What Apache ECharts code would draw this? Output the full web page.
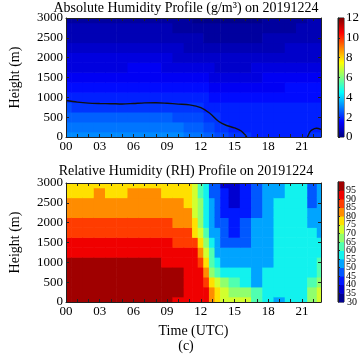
<!DOCTYPE html>
<html>
<head>
<meta charset="utf-8">
<script src="https://cdn.jsdelivr.net/npm/echarts@6/dist/echarts.min.js"></script>
<style>
html, body { margin: 0; padding: 0; background: #fff; }
#chart { width: 364px; height: 354px; }
</style>
</head>
<body>
<div id="chart"></div>
<script>
// sample times (hours UTC) and heights (m)
var times = [0, 1, 2, 3, 4, 5, 6, 7, 8, 9, 10, 11, 11.5, 12, 12.5, 13, 13.5, 14, 15, 16, 17, 18, 19, 20, 21, 22, 22.7];
var heights = [0, 250, 500, 750, 1000, 1250, 1500, 1750, 2000, 2250, 2500, 2750, 3000];
var hourLabels = ['00', '03', '06', '09', '12', '15', '18', '21'];

// absolute humidity (g/m3), one column per time, bottom -> top
var ahGrid = [
    [3.1, 2.8, 2.5, 2.25, 1.95, 1.65, 1.4, 1.2, 1.0, 0.85, 0.7, 0.55, 0.45],
    [3.1, 2.8, 2.5, 2.2, 1.95, 1.65, 1.4, 1.2, 1.0, 0.85, 0.7, 0.55, 0.45],
    [3.1, 2.8, 2.5, 2.2, 1.9, 1.65, 1.4, 1.2, 1.0, 0.85, 0.7, 0.55, 0.4],
    [3.1, 2.8, 2.5, 2.2, 1.9, 1.65, 1.4, 1.2, 1.0, 0.8, 0.65, 0.5, 0.4],
    [3.1, 2.8, 2.5, 2.2, 1.9, 1.65, 1.4, 1.2, 1.0, 0.8, 0.65, 0.5, 0.4],
    [3.1, 2.8, 2.5, 2.2, 1.9, 1.65, 1.4, 1.2, 1.0, 0.85, 0.7, 0.55, 0.45],
    [3.1, 2.8, 2.5, 2.2, 1.9, 1.65, 1.45, 1.25, 1.05, 0.85, 0.7, 0.55, 0.45],
    [3.1, 2.8, 2.5, 2.2, 1.95, 1.7, 1.45, 1.25, 1.05, 0.9, 0.7, 0.55, 0.45],
    [3.1, 2.8, 2.5, 2.2, 1.95, 1.7, 1.45, 1.25, 1.05, 0.85, 0.7, 0.55, 0.4],
    [3.05, 2.8, 2.5, 2.2, 1.95, 1.65, 1.4, 1.2, 1.0, 0.8, 0.65, 0.5, 0.35],
    [3.0, 2.75, 2.45, 2.2, 1.9, 1.65, 1.4, 1.15, 0.95, 0.75, 0.6, 0.45, 0.3],
    [2.95, 2.7, 2.4, 2.15, 1.9, 1.6, 1.35, 1.1, 0.9, 0.7, 0.55, 0.4, 0.25],
    [2.9, 2.65, 2.35, 2.1, 1.85, 1.6, 1.35, 1.1, 0.9, 0.7, 0.5, 0.35, 0.2],
    [2.8, 2.55, 2.3, 2.0, 1.8, 1.55, 1.3, 1.05, 0.85, 0.65, 0.5, 0.35, 0.2],
    [2.65, 2.45, 2.2, 1.95, 1.75, 1.5, 1.25, 1.0, 0.8, 0.6, 0.45, 0.3, 0.15],
    [2.5, 2.35, 2.1, 1.9, 1.7, 1.45, 1.2, 1.0, 0.8, 0.6, 0.45, 0.3, 0.15],
    [2.4, 2.2, 2.0, 1.85, 1.7, 1.45, 1.2, 0.95, 0.75, 0.55, 0.4, 0.25, 0.15],
    [2.3, 2.05, 1.95, 1.85, 1.65, 1.4, 1.15, 0.95, 0.75, 0.55, 0.4, 0.25, 0.15],
    [2.1, 1.98, 1.9, 1.8, 1.65, 1.4, 1.15, 0.95, 0.75, 0.55, 0.4, 0.25, 0.15],
    [2.0, 1.9, 1.85, 1.8, 1.65, 1.4, 1.15, 0.95, 0.75, 0.55, 0.4, 0.25, 0.15],
    [1.9, 1.88, 1.85, 1.8, 1.65, 1.4, 1.2, 1.0, 0.8, 0.6, 0.45, 0.3, 0.2],
    [1.88, 1.86, 1.84, 1.78, 1.65, 1.45, 1.25, 1.0, 0.85, 0.65, 0.5, 0.35, 0.25],
    [1.88, 1.86, 1.84, 1.78, 1.65, 1.45, 1.25, 1.05, 0.85, 0.7, 0.55, 0.4, 0.3],
    [1.9, 1.88, 1.85, 1.8, 1.68, 1.5, 1.3, 1.1, 0.9, 0.75, 0.6, 0.45, 0.35],
    [1.95, 1.9, 1.86, 1.8, 1.7, 1.5, 1.3, 1.1, 0.95, 0.8, 0.65, 0.55, 0.45],
    [2.1, 1.98, 1.9, 1.82, 1.7, 1.5, 1.3, 1.1, 0.95, 0.8, 0.7, 0.6, 0.5],
    [2.1, 1.98, 1.9, 1.82, 1.7, 1.5, 1.3, 1.1, 0.95, 0.8, 0.7, 0.6, 0.5]
];

// relative humidity (%), one column per time, bottom -> top
var rhGrid = [
    [96, 97, 97, 97, 97, 92, 92, 87, 87, 82, 82, 77, 77],
    [96, 97, 97, 97, 97, 92, 92, 87, 87, 82, 82, 77, 77],
    [96, 97, 97, 97, 97, 92, 92, 87, 87, 82, 82, 78, 77],
    [96, 97, 97, 97, 97, 92, 92, 87, 87, 82, 82, 81, 77],
    [96, 97, 97, 97, 97, 92, 92, 87, 87, 82, 82, 79, 77],
    [96, 97, 97, 97, 97, 92, 92, 87, 87, 82, 82, 79, 77],
    [96, 97, 97, 97, 97, 92, 92, 87, 87, 82, 82, 81, 77],
    [96, 97, 97, 97, 97, 92, 92, 87, 87, 82, 82, 82, 77],
    [96, 97, 97, 97, 97, 92, 92, 87, 87, 82, 82, 81, 77],
    [96, 97, 97, 97, 94, 92, 92, 87, 87, 82, 82, 78, 77],
    [92, 96, 97, 97, 92, 92, 89, 87, 82, 82, 81, 78, 77],
    [92, 93, 92, 92, 92, 91, 87, 85, 82, 81, 77, 77, 76],
    [92, 93, 93, 92, 92, 91, 87, 78, 76, 74, 73, 72, 72],
    [92, 92, 92, 91, 88, 83, 77, 71, 67, 66, 65, 64, 63],
    [90, 90, 87, 82, 75, 72, 65, 60, 57, 57, 56, 56, 57],
    [82, 83, 76, 68, 62, 60, 56, 52, 52, 52, 52, 48, 47],
    [77, 76, 70, 61, 57, 53, 52, 52, 48, 47, 47, 47, 46],
    [72, 72, 67, 57, 52, 52, 48, 47, 47, 43, 42, 42, 39],
    [72, 69, 62, 56, 52, 52, 47, 44, 42, 42, 39, 37, 37],
    [71, 66, 57, 55, 52, 52, 49, 47, 47, 43, 42, 42, 42],
    [62, 61, 53, 52, 52, 52, 52, 52, 52, 48, 47, 47, 47],
    [57, 57, 57, 56, 53, 52, 52, 52, 52, 52, 52, 52, 52],
    [53, 57, 57, 57, 57, 57, 57, 57, 57, 56, 55, 54, 54],
    [56, 57, 57, 57, 57, 57, 57, 57, 57, 57, 57, 57, 57],
    [58, 58, 57, 57, 57, 57, 57, 57, 57, 57, 57, 57, 56],
    [68, 66, 62, 59, 57, 57, 57, 57, 52, 52, 47, 47, 47],
    [73, 72, 68, 63, 61, 58, 56, 53, 52, 52, 52, 52, 52]
];

// 2 g/m3 contour of absolute humidity (time, height)
var ahContourA = [[0, 920], [1, 880], [2, 855], [3, 845], [4, 840], [5, 832], [6, 845], [7, 860], [8, 865],
    [9, 850], [10, 830], [11, 810], [12, 740], [12.8, 600], [13.6, 390], [14.3, 290], [15, 230], [15.6, 150], [16.1, 0]];
var ahContourB = [[21.5, 0], [21.7, 120], [21.9, 180], [22.3, 220], [22.7, 190]];

var ahRange = [0, 12];
var rhLevels = [30, 35, 40, 45, 50, 55, 60, 65, 70, 75, 80, 85, 90, 95, 100];
var timeRange = [0, 22.7];
var heightRange = [0, 3000];

// colour of each RH band, 30-35 ... 95-100
var rhPalette = ['#000090', '#0000d0', '#0018ff', '#0058ff', '#00a4ff', '#12f2ee', '#50ffb0', '#90ff6e',
    '#d2ff2e', '#ffe000', '#ff8c00', '#ff3c00', '#f00000', '#a00000'];

var font = 'Liberation Serif';

function jet(t) {
    function c(x) { return Math.round(Math.max(0, Math.min(1, x)) * 255); }
    return 'rgb(' + c(1.5 - Math.abs(4 * t - 3)) + ',' + c(1.5 - Math.abs(4 * t - 2)) + ',' + c(1.5 - Math.abs(4 * t - 1)) + ')';
}
function ahColor(v) {
    var q = (Math.floor(v / 0.25) + 0.5) * 0.25;
    return jet((q - ahRange[0]) / (ahRange[1] - ahRange[0]));
}
function rhColor(v) {
    var n = rhLevels.length - 1;
    var i = Math.max(0, Math.min(n - 1, Math.floor((v - rhLevels[0]) / 5)));
    return rhPalette[i];
}

function edges(arr, lo, hi) {
    var e = [lo];
    for (var i = 1; i < arr.length; i++) e.push((arr[i - 1] + arr[i]) / 2);
    e.push(hi);
    return e;
}
var tEdges = edges(times, timeRange[0], timeRange[1]);
var hEdges = edges(heights, heightRange[0], heightRange[1]);

function cells(grid) {
    var out = [];
    grid.forEach(function (col, i) {
        col.forEach(function (v, j) { out.push([times[i], heights[j], v, i, j]); });
    });
    return out;
}

function cellRenderer(colorFn) {
    return function (params, api) {
        var i = api.value(3), j = api.value(4);
        var p0 = api.coord([tEdges[i], hEdges[j]]);
        var p1 = api.coord([tEdges[i + 1], hEdges[j + 1]]);
        var cs = params.coordSys;
        var shape = echarts.graphic.clipRectByRect({
            x: p0[0] - 0.3, y: p1[1] - 0.3,
            width: p1[0] - p0[0] + 0.6, height: p0[1] - p1[1] + 0.6
        }, { x: cs.x, y: cs.y, width: cs.width, height: cs.height });
        return shape && { type: 'rect', shape: shape, style: { fill: colorFn(api.value(2)) } };
    };
}

function timeAxis(grid, pos, labels, name) {
    return {
        type: 'value', gridIndex: grid, position: pos, min: timeRange[0], max: timeRange[1], interval: 1, z: 10,
        axisLine: { show: true, onZero: false, lineStyle: { color: '#222', width: 1 } },
        axisTick: { show: true, inside: true, length: 3, lineStyle: { color: '#222' } },
        axisLabel: {
            show: labels, color: '#000', fontFamily: font, fontSize: 13, margin: 3, showMaxLabel: false,
            formatter: function (v) { return v % 3 === 0 ? hourLabels[v / 3] : ''; }
        },
        splitLine: { show: false },
        name: name, nameLocation: 'middle', nameGap: 22,
        nameTextStyle: { color: '#000', fontFamily: font, fontSize: 14 }
    };
}
function heightAxis(grid, pos, labels, name) {
    return {
        type: 'value', gridIndex: grid, position: pos, min: heightRange[0], max: heightRange[1], interval: 500, z: 10,
        axisLine: { show: true, onZero: false, lineStyle: { color: '#222', width: 1 } },
        axisTick: { show: true, inside: true, length: 3, lineStyle: { color: '#222' } },
        axisLabel: {
            show: labels, color: '#000', fontFamily: font, fontSize: 13, margin: 3,
            formatter: function (v) { return String(v); }
        },
        splitLine: { show: false },
        name: name, nameLocation: 'middle', nameGap: 44, nameRotate: 90,
        nameTextStyle: { color: '#000', fontFamily: font, fontSize: 14 }
    };
}
function barXAxis(grid) {
    return { type: 'value', gridIndex: grid, min: 0, max: 1, show: false };
}
function barYAxis(grid, min, max, interval, size, lh, showMin, showMax) {
    return {
        type: 'value', gridIndex: grid, position: 'right', min: min, max: max, interval: interval, z: 10,
        axisLine: { show: true, lineStyle: { color: '#222', width: 1 } },
        axisTick: { show: true, length: 2, lineStyle: { color: '#222' } },
        axisLabel: {
            color: '#000', fontFamily: font, fontSize: size, margin: 2, lineHeight: lh,
            showMinLabel: showMin, showMaxLabel: showMax, hideOverlap: false
        },
        splitLine: { show: false }
    };
}
// extra axis on the RH colour bar that only carries the bottom label
var rhMinAxis = {
    type: 'value', gridIndex: 3, position: 'right', min: rhLevels[0], max: rhLevels[rhLevels.length - 1], interval: 5,
    axisLine: { show: false }, axisTick: { show: false }, splitLine: { show: false },
    axisLabel: {
        color: '#000', fontFamily: font, fontSize: 10, margin: 3, lineHeight: 8, showMinLabel: true, showMaxLabel: false,
        formatter: function (v) { return v === rhLevels[0] ? String(v) : ''; }
    }
};

var titleStyle = { fontFamily: font, fontSize: 14, fontWeight: 'normal', color: '#000' };

var myChart = echarts.init(document.getElementById('chart'));
myChart.setOption({
    animation: false,
    backgroundColor: '#fff',
    title: [
        { text: 'Absolute Humidity Profile (g/m³) on 20191224', left: 186, top: 1, padding: 0, textAlign: 'center', textStyle: titleStyle },
        { text: 'Relative Humidity (RH) Profile on 20191224', left: 186, top: 164, padding: 0, textAlign: 'center', textStyle: titleStyle },
        { text: '(c)', left: 186, top: 339, padding: 0, textAlign: 'center', textStyle: titleStyle }
    ],
    grid: [
        { left: 51, top: 18, width: 270, height: 119 },
        { left: 338, top: 18, width: 6, height: 119, show: true, borderColor: '#222', borderWidth: 1 },
        { left: 51, top: 183, width: 270, height: 119 },
        { left: 338, top: 182, width: 6, height: 120, show: true, borderColor: '#222', borderWidth: 1 }
    ],
    xAxis: [
        timeAxis(0, 'bottom', true, ''),
        timeAxis(0, 'top', false, ''),
        barXAxis(1),
        timeAxis(2, 'bottom', true, 'Time (UTC)'),
        timeAxis(2, 'top', false, ''),
        barXAxis(3)
    ],
    yAxis: [
        heightAxis(0, 'left', true, 'Height (m)'),
        heightAxis(0, 'right', false, ''),
        barYAxis(1, ahRange[0], ahRange[1], 2, 13, 13, true, true),
        heightAxis(2, 'left', true, 'Height (m)'),
        heightAxis(2, 'right', false, ''),
        barYAxis(3, rhLevels[0], rhLevels[rhLevels.length - 1], 5, 10, 8, false, false),
        rhMinAxis
    ],
    series: [
        {
            type: 'custom', xAxisIndex: 0, yAxisIndex: 0, data: cells(ahGrid),
            encode: { x: 0, y: 1 }, renderItem: cellRenderer(ahColor)
        },
        {
            type: 'line', xAxisIndex: 0, yAxisIndex: 0, data: ahContourA, showSymbol: false, smooth: 0.3, z: 4,
            lineStyle: { color: '#111', width: 1.4 }
        },
        {
            type: 'line', xAxisIndex: 0, yAxisIndex: 0, data: ahContourB, showSymbol: false, smooth: 0.3, z: 4,
            lineStyle: { color: '#111', width: 1.4 }
        },
        {
            type: 'custom', xAxisIndex: 2, yAxisIndex: 2, data: [[0, ahRange[0], ahRange[1]]],
            encode: { x: 0, y: [1, 2] },
            renderItem: function (params, api) {
                var p0 = api.coord([0, api.value(1)]);
                var p1 = api.coord([1, api.value(2)]);
                return {
                    type: 'rect',
                    shape: { x: p0[0], y: p1[1], width: p1[0] - p0[0], height: p0[1] - p1[1] },
                    style: {
                        fill: new echarts.graphic.LinearGradient(0, 1, 0, 0, [
                            { offset: 0, color: jet(0) }, { offset: 0.125, color: jet(0.125) },
                            { offset: 0.375, color: jet(0.375) }, { offset: 0.625, color: jet(0.625) },
                            { offset: 0.875, color: jet(0.875) }, { offset: 1, color: jet(1) }
                        ])
                    }
                };
            }
        },
        {
            type: 'custom', xAxisIndex: 3, yAxisIndex: 3, data: cells(rhGrid),
            encode: { x: 0, y: 1 }, renderItem: cellRenderer(rhColor)
        },
        {
            type: 'custom', xAxisIndex: 5, yAxisIndex: 5,
            data: rhLevels.slice(0, -1).map(function (lo, k) { return [0, lo, rhLevels[k + 1]]; }),
            encode: { x: 0, y: [1, 2] },
            renderItem: function (params, api) {
                var p0 = api.coord([0, api.value(1)]);
                var p1 = api.coord([1, api.value(2)]);
                return {
                    type: 'rect',
                    shape: { x: p0[0], y: p1[1] - 0.3, width: p1[0] - p0[0], height: p0[1] - p1[1] + 0.6 },
                    style: { fill: rhColor((api.value(1) + api.value(2)) / 2) }
                };
            }
        }
    ]
});
</script>
</body>
</html>
